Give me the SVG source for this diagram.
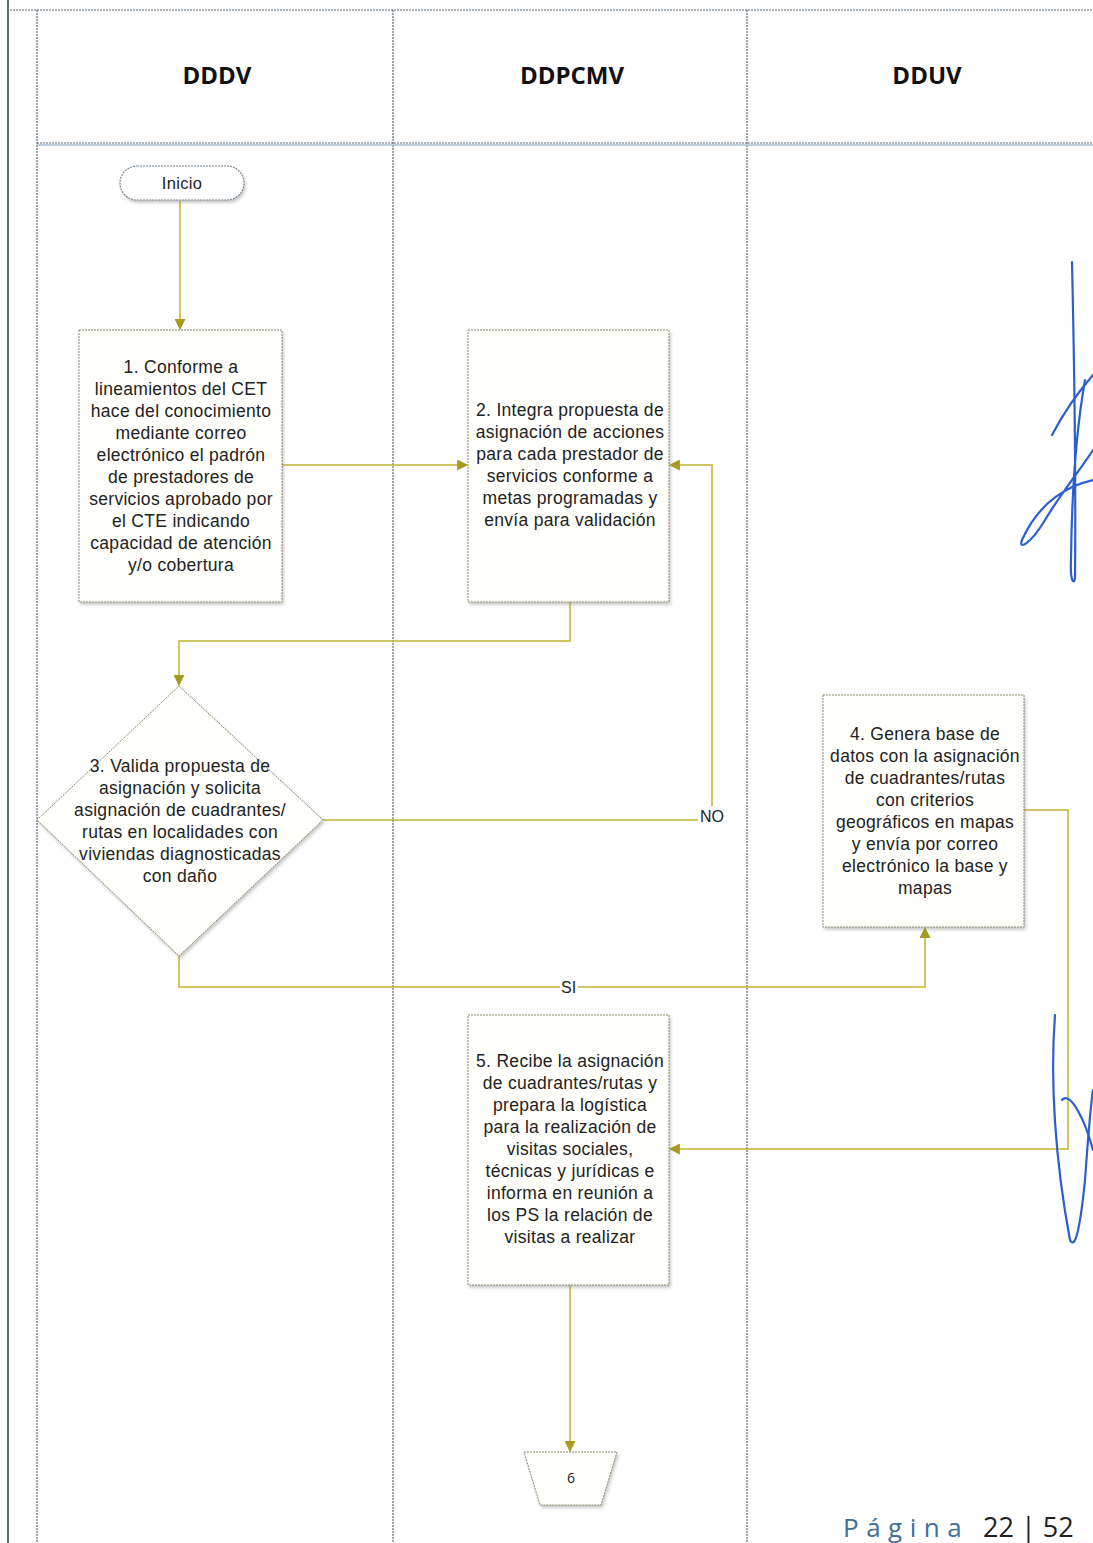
<svg xmlns="http://www.w3.org/2000/svg" width="1093" height="1543" viewBox="0 0 1093 1543">
<style>
.lane{stroke:#5a6a78;stroke-width:1.2;stroke-dasharray:2 1;fill:none}
.hdr{font-family:"Open Sans","Liberation Sans",sans-serif;font-weight:bold;font-size:24px;fill:#111;text-anchor:middle}
.box{fill:#fffffb;stroke:#8a8a70;stroke-width:1;stroke-dasharray:2 1;filter:url(#sh)}
.t{font-family:"Liberation Sans",Arial,sans-serif;font-size:17.5px;letter-spacing:0.3px;fill:#222;text-anchor:middle}
.c{stroke:#c2b32e;stroke-width:1.5;fill:none}
.ca{stroke:#c2b32e;stroke-width:1.5;fill:none;marker-end:url(#ar)}
.lbl{font-family:"Liberation Sans",Arial,sans-serif;font-size:16px;fill:#222}
.sig{stroke:#2b5fd0;stroke-width:2.2;fill:none;stroke-linecap:round}
</style>
<defs>
<marker id="ar" viewBox="0 0 10 10" refX="9" refY="5" markerWidth="11" markerHeight="11" markerUnits="userSpaceOnUse" orient="auto"><path d="M0,0 L10,5 L0,10 z" fill="#a89a1e"/></marker>
<filter id="sh" x="-10%" y="-10%" width="125%" height="125%"><feDropShadow dx="1.5" dy="2.5" stdDeviation="1.5" flood-color="#888" flood-opacity="0.45"/></filter>
</defs>
<rect width="1093" height="1543" fill="#fff"/>
<g id="lanes">
<line x1="8" y1="0" x2="8" y2="1543" stroke="#2f4f3a" stroke-width="1.6"/>
<line x1="10" y1="10" x2="1093" y2="10" class="lane"/>
<line x1="37" y1="10" x2="37" y2="1543" class="lane"/>
<line x1="393" y1="10" x2="393" y2="1543" class="lane"/>
<line x1="747" y1="10" x2="747" y2="1543" class="lane"/>
<line x1="37" y1="143" x2="1093" y2="143" class="lane"/>
<line x1="37" y1="145" x2="1093" y2="145" stroke="#a8bcd8" stroke-width="1.5"/>
<text x="217" y="84" class="hdr">DDDV</text>
<text x="572" y="84" class="hdr">DDPCMV</text>
<text x="927" y="84" class="hdr">DDUV</text>
</g>
<g id="connectors">
<line x1="180" y1="201" x2="180" y2="329" class="ca"/>
<line x1="282" y1="465" x2="467" y2="465" class="ca"/>
<polyline points="570,602 570,641 179,641 179,685" class="ca"/>
<polyline points="323,820 698,820" class="c"/>
<polyline points="712,806 712,465 670,465" class="ca"/>
<text x="700" y="822" class="lbl">NO</text>
<polyline points="179,956 179,987 560,987" class="c"/>
<polyline points="578,987 925,987 925,928" class="ca"/>
<text x="561" y="993" class="lbl">SI</text>
<polyline points="1024,810 1068,810 1068,1149 670,1149" class="ca"/>
<line x1="570" y1="1285" x2="570" y2="1451" class="ca"/>
</g>
<g id="n0">
<rect x="120" y="166" width="124" height="34" rx="17" fill="#fff" stroke="#7a8a98" stroke-width="1.2" stroke-dasharray="2 1" filter="url(#sh)"/>
<text x="182" y="189" class="t" style="font-size:16.5px">Inicio</text>
</g>
<g id="n1">
<rect x="79" y="330" width="203" height="272" class="box"/>
<text class="t"><tspan x="181" y="373">1. Conforme a</tspan><tspan x="181" y="395">lineamientos del CET</tspan><tspan x="181" y="417">hace del conocimiento</tspan><tspan x="181" y="439">mediante correo</tspan><tspan x="181" y="461">electrónico el padrón</tspan><tspan x="181" y="483">de prestadores de</tspan><tspan x="181" y="505">servicios aprobado por</tspan><tspan x="181" y="527">el CTE indicando</tspan><tspan x="181" y="549">capacidad de atención</tspan><tspan x="181" y="571">y/o cobertura</tspan></text>
</g>
<g id="n2">
<rect x="468" y="330" width="201" height="272" class="box"/>
<text class="t"><tspan x="570" y="416">2. Integra propuesta de</tspan><tspan x="570" y="438">asignación de acciones</tspan><tspan x="570" y="460">para cada prestador de</tspan><tspan x="570" y="482">servicios conforme a</tspan><tspan x="570" y="504">metas programadas y</tspan><tspan x="570" y="526">envía para validación</tspan></text>
</g>
<g id="n3">
<polygon points="179,686 323,820 179,956 37,820" class="box"/>
<text class="t"><tspan x="180" y="772">3. Valida propuesta de</tspan><tspan x="180" y="794">asignación y solicita</tspan><tspan x="180" y="816">asignación de cuadrantes/</tspan><tspan x="180" y="838">rutas en localidades con</tspan><tspan x="180" y="860">viviendas diagnosticadas</tspan><tspan x="180" y="882">con daño</tspan></text>
</g>
<g id="n4">
<rect x="823" y="695" width="201" height="232" class="box"/>
<text class="t"><tspan x="925" y="740">4. Genera base de</tspan><tspan x="925" y="762">datos con la asignación</tspan><tspan x="925" y="784">de cuadrantes/rutas</tspan><tspan x="925" y="806">con criterios</tspan><tspan x="925" y="828">geográficos en mapas</tspan><tspan x="925" y="850">y envía por correo</tspan><tspan x="925" y="872">electrónico la base y</tspan><tspan x="925" y="894">mapas</tspan></text>
</g>
<g id="n5">
<rect x="468" y="1015" width="201" height="270" class="box"/>
<text class="t"><tspan x="570" y="1067">5. Recibe la asignación</tspan><tspan x="570" y="1089">de cuadrantes/rutas y</tspan><tspan x="570" y="1111">prepara la logística</tspan><tspan x="570" y="1133">para la realización de</tspan><tspan x="570" y="1155">visitas sociales,</tspan><tspan x="570" y="1177">técnicas y jurídicas e</tspan><tspan x="570" y="1199">informa en reunión a</tspan><tspan x="570" y="1221">los PS la relación de</tspan><tspan x="570" y="1243">visitas a realizar</tspan></text>
</g>
<g id="n6">
<polygon points="524,1452 617,1452 601,1505 540,1505" class="box"/>
<text x="571" y="1483" style="font-family:'Open Sans','Liberation Sans',sans-serif;font-size:14px;fill:#222;text-anchor:middle">6</text>
</g>
<g id="signatures">
<path class="sig" d="M1072,262 C1074,350 1076,470 1075,578 C1074,585 1070,582 1071,560 C1072,470 1078,420 1085,380"/>
<path class="sig" d="M1052,435 C1065,410 1080,390 1093,375"/>
<path class="sig" d="M1093,480 C1070,485 1040,500 1022,540 C1018,550 1030,545 1045,520 C1060,495 1080,470 1093,450"/>
<path class="sig" d="M1055,1015 C1050,1080 1055,1160 1070,1240 C1075,1250 1080,1230 1085,1180 C1088,1140 1090,1110 1093,1090"/>
<path class="sig" d="M1062,1100 C1070,1090 1085,1120 1093,1150"/>
</g>
<g id="footer">
<text x="843" y="1537" style="font-family:'Open Sans','Liberation Sans',sans-serif;font-size:26px;fill:#3f6f9a;letter-spacing:7.5px">Página</text>
<text x="983" y="1537" style="font-family:'Open Sans','Liberation Sans',sans-serif;font-size:27px;fill:#222">22 | 52</text>
</g>
</svg>
